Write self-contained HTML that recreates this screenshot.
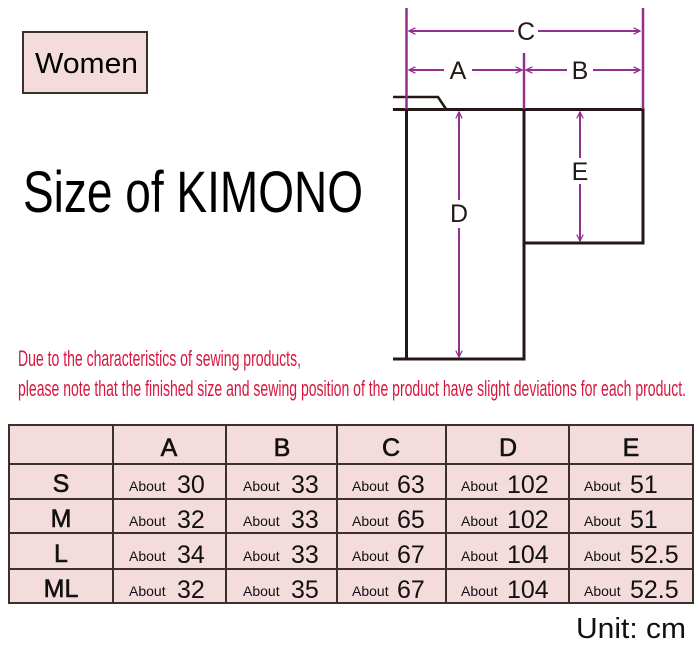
<!DOCTYPE html>
<html><head><meta charset="utf-8"><style>
html,body{margin:0;padding:0;background:#fff;}
svg{display:block;}
text{font-family:"Liberation Sans",sans-serif;}
</style></head><body>
<svg width="700" height="650" viewBox="0 0 700 650" xmlns="http://www.w3.org/2000/svg">
<defs>
<marker id="ah" viewBox="0 0 10 10" refX="9" refY="5" markerWidth="8" markerHeight="8" orient="auto-start-reverse" markerUnits="userSpaceOnUse">
<path d="M1,1 L9,5 L1,9" fill="none" stroke="#93308f" stroke-width="1.6"/>
</marker>
</defs>
<!-- Women box -->
<rect x="23" y="32" width="124" height="61" fill="#f4dcdc" stroke="#3a302c" stroke-width="2"/>
<text x="35" y="73" font-size="29" fill="#000" textLength="103" lengthAdjust="spacingAndGlyphs">Women</text>
<text x="23" y="212" font-size="58" fill="#000" textLength="340" lengthAdjust="spacingAndGlyphs">Size of KIMONO</text>

<!-- kimono -->
<g stroke="#231815" stroke-width="3" fill="none">
<path d="M393,109.5 H643 V243 H524"/>
<path d="M406.5,109.5 V359 H524 V109.5"/>
<path d="M393,359 H406"/>
</g>
<path d="M393,97 H438 L446,109" stroke="#231815" stroke-width="2.5" fill="none"/>
<path d="M393,109.5 H446" stroke="#231815" stroke-width="3"/>
<!-- purple -->
<g stroke="#93308f" stroke-width="2.5" fill="none">
<path d="M406.5,8 V109"/>
<path d="M643,8 V109"/>
<path d="M524,53 V109"/>
</g>
<g stroke="#93308f" stroke-width="2" fill="none" marker-start="url(#ah)" marker-end="url(#ah)">
<path d="M409,31 H640"/>
<path d="M409,70 H522"/>
<path d="M526,70 H640"/>
<path d="M459,112 V357"/>
<path d="M580,112 V241"/>
</g>
<g font-size="25" fill="#231815" text-anchor="middle">
<rect x="514" y="18" width="24" height="26" fill="#fff"/>
<text x="526" y="40">C</text>
<rect x="444" y="58" width="28" height="26" fill="#fff"/>
<text x="458" y="79">A</text>
<rect x="567" y="58" width="26" height="26" fill="#fff"/>
<text x="580" y="79">B</text>
<rect x="444" y="200" width="30" height="28" fill="#fff"/>
<text x="459" y="222">D</text>
<rect x="568" y="158" width="24" height="26" fill="#fff"/>
<text x="580" y="180">E</text>
</g>

<!-- red note -->
<g fill="#d7173f" font-size="22">
<text x="18" y="366" textLength="283" lengthAdjust="spacingAndGlyphs">Due to the characteristics of sewing products,</text>
<text x="18" y="396" textLength="668" lengthAdjust="spacingAndGlyphs">please note that the finished size and sewing position of the product have slight deviations for each product.</text>
</g>

<!-- table -->
<rect x="9" y="425" width="684" height="178" fill="#f4dcdc"/>
<g stroke="#3a302c" stroke-width="2" fill="none">
<rect x="9" y="425" width="684" height="178"/>
<path d="M9,464 H693 M9,499 H693 M9,533 H693 M9,569 H693"/>
<path d="M113,425 V603 M226,425 V603 M337,425 V603 M446,425 V603 M569,425 V603"/>
</g>
<g font-size="25" fill="#111" text-anchor="middle" stroke="#111" stroke-width="0.6">
<text x="169" y="456">A</text>
<text x="282" y="456">B</text>
<text x="391" y="456">C</text>
<text x="508" y="456">D</text>
<text x="631" y="456">E</text>
<text x="61" y="492">S</text>
<text x="61" y="527">M</text>
<text x="61" y="562">L</text>
<text x="61" y="597">ML</text>
</g>
<g fill="#111">
<g font-size="14">
<text x="129" y="491">About</text><text x="243" y="491">About</text><text x="352" y="491">About</text><text x="461" y="491">About</text><text x="584" y="491">About</text>
<text x="129" y="526">About</text><text x="243" y="526">About</text><text x="352" y="526">About</text><text x="461" y="526">About</text><text x="584" y="526">About</text>
<text x="129" y="561">About</text><text x="243" y="561">About</text><text x="352" y="561">About</text><text x="461" y="561">About</text><text x="584" y="561">About</text>
<text x="129" y="596">About</text><text x="243" y="596">About</text><text x="352" y="596">About</text><text x="461" y="596">About</text><text x="584" y="596">About</text>
</g>
<g font-size="25">
<text x="177" y="493">30</text><text x="291" y="493">33</text><text x="397" y="493">63</text><text x="507" y="493">102</text><text x="630" y="493">51</text>
<text x="177" y="528">32</text><text x="291" y="528">33</text><text x="397" y="528">65</text><text x="507" y="528">102</text><text x="630" y="528">51</text>
<text x="177" y="563">34</text><text x="291" y="563">33</text><text x="397" y="563">67</text><text x="507" y="563">104</text><text x="630" y="563">52.5</text>
<text x="177" y="598">32</text><text x="291" y="598">35</text><text x="397" y="598">67</text><text x="507" y="598">104</text><text x="630" y="598">52.5</text>
</g>
</g>
<text x="576" y="638" font-size="29" fill="#111" textLength="110" lengthAdjust="spacingAndGlyphs">Unit: cm</text>
</svg>
</body></html>
